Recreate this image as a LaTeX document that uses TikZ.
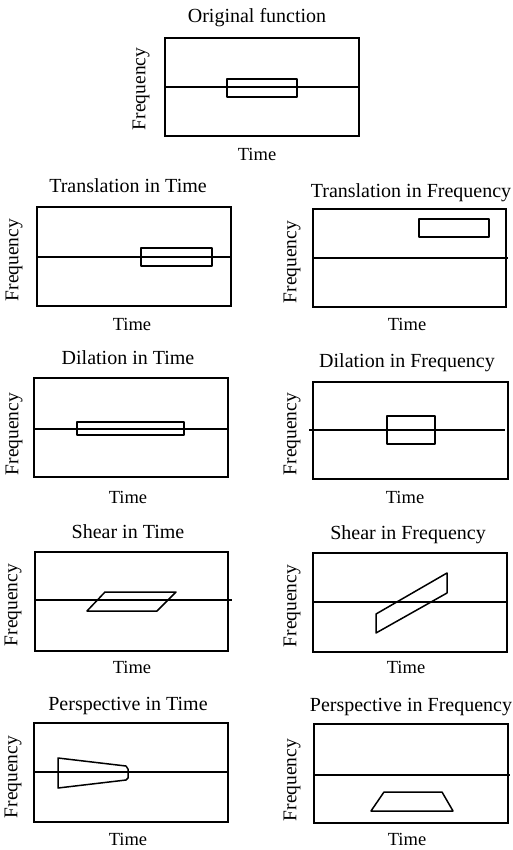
\documentclass[tikz,border=0pt]{standalone}
\usepackage{fontspec}
\setmainfont{Liberation Serif}
\begin{document}
\begin{tikzpicture}[x=1pt,y=-1pt,
  frame/.style={draw=black,line width=1.4pt},
  axis/.style={draw=black,line width=1.2pt},
  shapeline/.style={draw=black,line width=1.5pt,line join=round},
  ttl/.style={font=\fontsize{20}{22}\selectfont,inner sep=0pt,anchor=base},
  tlab/.style={font=\fontsize{18.5}{20}\selectfont,inner sep=0pt,anchor=base},
  flab/.style={font=\fontsize{19.5}{21}\selectfont,inner sep=0pt,rotate=90,anchor=center}]
\useasboundingbox[fill=white] (0,0) rectangle (513,850);

% Panel 1: Original function
\node[ttl] (t1) at (257,23) {Original function};
\draw[frame] (165,38) rectangle (359,136);
\draw[axis] (165,87) -- (360,87);
\draw[shapeline] (227,79) rectangle (297,97);
\node[tlab] (x1) at (257,161) {Time};
\node[flab] (f1) at (141,89) {Frequency};

% Panel 2: Translation in Time
\node[ttl] (t2) at (128,193) {Translation in Time};
\draw[frame] (37,207) rectangle (231,306);
\draw[axis] (37,257) -- (231,257);
\draw[shapeline] (141,248) rectangle (212,266);
\node[tlab] (x2) at (132,330) {Time};
\node[flab] (f2) at (14,260) {Frequency};

% Panel 3: Translation in Frequency
\node[ttl] (t3) at (411,197) {Translation in Frequency};
\draw[frame] (313,209) rectangle (506,307);
\draw[axis] (313,258) -- (508,258);
\draw[shapeline] (419,219) rectangle (489,237);
\node[tlab] (x3) at (407,330) {Time};
\node[flab] (f3) at (292,262) {Frequency};

% Panel 4: Dilation in Time
\node[ttl] (t4) at (128,364) {Dilation in Time};
\draw[frame] (34,378) rectangle (228,477);
\draw[axis] (34,429) -- (228,429);
\draw[shapeline] (77,422) rectangle (184,435);
\node[tlab] (x4) at (128,503) {Time};
\node[flab] (f4) at (14,434) {Frequency};

% Panel 5: Dilation in Frequency
\node[ttl] (t5) at (407,367) {Dilation in Frequency};
\draw[frame] (313,382) rectangle (508,479);
\draw[axis] (309,430) -- (505,430);
\draw[shapeline] (387,416) rectangle (435,444);
\node[tlab] (x5) at (405,503) {Time};
\node[flab] (f5) at (292,434) {Frequency};

% Panel 6: Shear in Time
\node[ttl] (t6) at (128,538) {Shear in Time};
\draw[frame] (35,552) rectangle (228,651);
\draw[axis] (35,600) -- (232,600);
\draw[shapeline] (105,592) -- (176,592) -- (157,611) -- (87,611) -- cycle;
\node[tlab] (x6) at (132,673) {Time};
\node[flab] (f6) at (13,605) {Frequency};

% Panel 7: Shear in Frequency
\node[ttl] (t7) at (408,539) {Shear in Frequency};
\draw[frame] (313,553) rectangle (507,652);
\draw[axis] (313,602) -- (507,602);
\draw[shapeline] (376,614) -- (447,573) -- (447,593) -- (376,633) -- cycle;
\node[tlab] (x7) at (406,673) {Time};
\node[flab] (f7) at (292,606) {Frequency};

% Panel 8: Perspective in Time
\node[ttl] (t8) at (128,710) {Perspective in Time};
\draw[frame] (34,723) rectangle (228,822);
\draw[axis] (34,772) -- (229,772);
\draw[shapeline] (58,758) -- (126,766) -- (128,769) -- (128,778) -- (126,780) -- (58,788) -- cycle;
\node[tlab] (x8) at (128,845) {Time};
\node[flab] (f8) at (13,777) {Frequency};

% Panel 9: Perspective in Frequency
\node[ttl] (t9) at (411,711) {Perspective in Frequency};
\draw[frame] (314,724) rectangle (508,823);
\draw[axis] (314,775) -- (510,775);
\draw[shapeline] (384,792) -- (442,792) -- (453,811) -- (371,811) -- cycle;
\node[tlab] (x9) at (407,845) {Time};
\node[flab] (f9) at (292,780) {Frequency};
\end{tikzpicture}
\end{document}
